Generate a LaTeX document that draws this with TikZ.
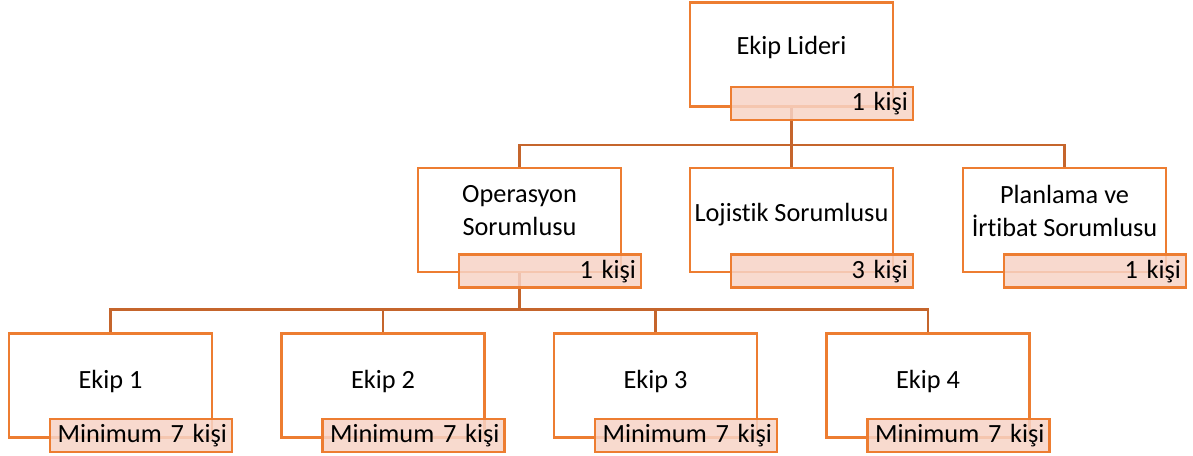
\documentclass[tikz,border=0pt]{standalone}
\usepackage{fontspec}
\setmainfont{Carlito}[Ligatures=NoCommon]
\usetikzlibrary{calc}
\definecolor{boxline}{HTML}{ED7D31}
\definecolor{connline}{HTML}{C5652C}
\definecolor{countfill}{HTML}{F7D3C6}

\tikzset{
  unit/.style={draw=boxline, line width=2.6pt, fill=white, minimum width=203pt,
    minimum height=104pt, inner sep=0pt},
  unittext/.style={align=center, font=\fontsize{26.3}{33}\selectfont, inner sep=0pt},
  count/.style={draw=boxline, line width=2.6pt, fill=countfill, fill opacity=.85,
    text opacity=1, minimum width=182pt, minimum height=33pt, inner sep=5pt,
    text width=172pt, align=right, font=\fontsize{26.3}{33}\selectfont, anchor=north east},
  conn/.style={draw=connline, line width=2.6pt}
}

\begin{document}
\begin{tikzpicture}[x=1pt,y=1pt]
\useasboundingbox (0,0) rectangle (1193,-455);

% boxes
\node[unit] (lead) at (791.5,-54.5) {};
\node[unittext] at ($(lead)+(0,7)$) {Ekip Lideri};
\node[unit] (ops) at (519.5,-220) {};
\node[unittext] at ($(ops)+(0,9)$) {Operasyon\\Sorumlusu};
\node[unit] (log) at (791.5,-220) {};
\node[unittext] at ($(log)+(0,5)$) {Lojistik Sorumlusu};
\node[unit] (plan) at (1064.5,-220) {};
\node[unittext] at ($(plan)+(0,9)$) {Planlama ve\\İrtibat Sorumlusu};
\foreach \i in {1,...,4} {
  \node[unit] (ekip\i) at ({110.5+272.5*(\i-1)},-385.5) {};
  \node[unittext] at ($(ekip\i)+(0,4)$) {Ekip \i};
}

% connectors
\foreach \c in {ops,log,plan}
  \draw[conn] (lead.south) -- ++(0,-37) -| (\c.north);
\foreach \i in {1,...,4}
  \draw[conn] (ops.south) -- ++(0,-36) -| (ekip\i.north);

% head counts
\node[count] (leadn) at ($(lead.south east)+(20,22)$) {1 kişi};
\node[count] (opsn) at ($(ops.south east)+(20,20)$) {1 kişi};
\node[count] (logn) at ($(log.south east)+(20,20)$) {3 kişi};
\node[count] (plann) at ($(plan.south east)+(20,20)$) {1 kişi};
\foreach \i in {1,...,4}
  \node[count] (ekip\i n) at ($(ekip\i.south east)+(20,21)$) {Minimum 7 kişi};
\end{tikzpicture}
\end{document}
